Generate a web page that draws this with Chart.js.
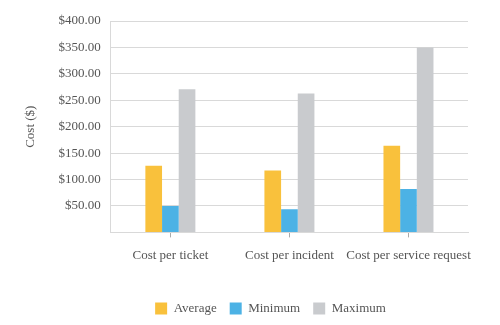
<!DOCTYPE html>
<html>
<head>
<meta charset="utf-8">
<script src="https://cdn.jsdelivr.net/npm/chart.js@4.4.1/dist/chart.umd.min.js"></script>
<style>
  html, body { margin: 0; padding: 0; background: #fff; }
  #wrap { width: 500px; height: 325px; }
</style>
</head>
<body>
<div id="wrap"><canvas id="costChart"></canvas></div>
<script>
// data
const categories = ['Cost per ticket', 'Cost per incident', 'Cost per service request'];
const averageCost = [126, 117, 164];
const minimumCost = [50, 44, 82];
const maximumCost = [271, 263, 350];
const yTickLabels = ['', '$50.00', '$100.00', '$150.00', '$200.00', '$250.00', '$300.00', '$350.00', '$400.00'];

const textColor = '#555555';
const gridColor = '#d9d9d9';
const font = { family: "'Liberation Serif', 'DejaVu Serif', serif", size: 13 };

// nudge the legend to the right, like the original
const legendShift = {
    id: 'legendShift',
    afterLayout(chart) {
        if (chart.legend) {
            chart.legend.left += 25;
            chart.legend.right += 25;
        }
    }
};

const ctx = document.getElementById('costChart').getContext('2d');
new Chart(ctx, {
    type: 'bar',
    data: {
        labels: categories,
        datasets: [
            { label: 'Average', data: averageCost, backgroundColor: '#f9c13c' },
            { label: 'Minimum', data: minimumCost, backgroundColor: '#4cb2e5' },
            { label: 'Maximum', data: maximumCost, backgroundColor: '#c9cbce' }
        ]
    },
    options: {
        responsive: true,
        maintainAspectRatio: false,
        animation: false,
        layout: { padding: { left: 23, right: 32, top: 21, bottom: 0 } },
        datasets: { bar: { barPercentage: 1, categoryPercentage: 0.42 } },
        plugins: {
            legend: {
                position: 'bottom',
                labels: { boxWidth: 12, boxHeight: 12, padding: 13, color: textColor, font: font }
            },
            tooltip: { enabled: false }
        },
        scales: {
            x: {
                grid: { offset: false, drawOnChartArea: false, drawTicks: true, tickLength: 5, color: '#aaaaaa' },
                border: { color: gridColor },
                ticks: { color: textColor, font: font, padding: 10, maxRotation: 0, autoSkip: false },
                afterFit(scale) { scale.height += 16; }
            },
            y: {
                min: 0,
                max: 400,
                grid: { color: gridColor, drawTicks: false },
                border: { color: gridColor },
                ticks: {
                    stepSize: 50,
                    color: textColor,
                    font: font,
                    padding: 10,
                    callback: (v, i) => yTickLabels[i]
                },
                title: {
                    display: true,
                    text: 'Cost ($)',
                    color: textColor,
                    font: font,
                    padding: { top: 0, bottom: 10 }
                }
            }
        }
    },
    plugins: [legendShift]
});
</script>
</body>
</html>
